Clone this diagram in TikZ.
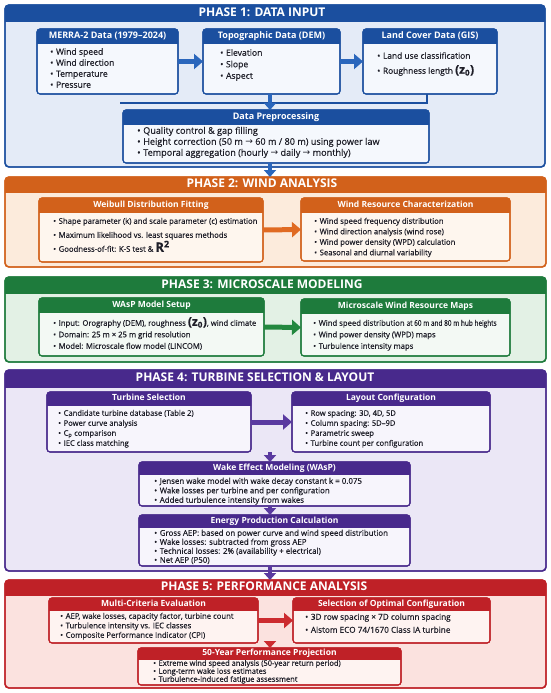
\documentclass[tikz,border=0pt]{standalone}
\usepackage{fontspec}
\setmainfont{Open Sans}
\newfontfamily\bt{Open Sans}[FakeBold=0.45]
\newfontfamily\djv{DejaVu Sans}
\usetikzlibrary{arrows.meta}
\definecolor{bl}{HTML}{1B4F9F}\definecolor{blP}{HTML}{E4EBF7}\definecolor{blB}{HTML}{F5F8FD}\definecolor{blA}{HTML}{2A66BC}
\definecolor{or}{HTML}{D2611B}\definecolor{orP}{HTML}{FCEBDC}\definecolor{orB}{HTML}{FEF6EE}\definecolor{orA}{HTML}{E06A22}
\definecolor{gr}{HTML}{1E7B3C}\definecolor{grP}{HTML}{E3F1E5}\definecolor{grB}{HTML}{F3F9F4}\definecolor{grA}{HTML}{23883F}
\definecolor{pu}{HTML}{48298C}\definecolor{puP}{HTML}{EBE7F6}\definecolor{puB}{HTML}{F7F5FC}\definecolor{puA}{HTML}{5A3AA0}
\definecolor{rd}{HTML}{BF2127}\definecolor{rdP}{HTML}{FBE2DF}\definecolor{rdB}{HTML}{FEF3F1}\definecolor{rdA}{HTML}{CC2B2F}
\definecolor{txt}{HTML}{1E1E28}
\tikzset{
  pt/.style={font=\bfseries\fontsize{12}{14}\selectfont, text=white, inner sep=0, text height=8.6pt, text depth=2.4pt},
  hdr/.style={font=\bfseries\fontsize{8.5}{10}\selectfont, text=white, inner sep=0, text height=6.2pt, text depth=1.8pt},
  lf/.style={font=\bt\fontsize{7.2}{8}\selectfont},
  li/.style={anchor=west, inner sep=0, text height=5pt, text depth=1.5pt, text=txt, lf},
  blk/.style={line width=5pt, -{Triangle[length=9pt,width=15pt]}},
  vblk/.style={line width=4.5pt, -{Triangle[length=7pt,width=12pt]}},
}
\newcommand\mkpanel[9]{%
  \node[draw=#7, line width=1.4pt, fill=#7P, rounded corners=4pt, minimum width=#4pt, minimum height=#5pt, anchor=north west, inner sep=0, outer sep=0] (#1) at (#2,#3) {};
  \begin{scope}
    \clip (#2,#3) rectangle (#2+#4,#3+#6);
    \fill[#7, rounded corners=4pt] (#1.north west) rectangle (#1.south east);
  \end{scope}
  \draw[#7, line width=1.4pt, rounded corners=4pt] (#1.north west) rectangle (#1.south east);
  \node[pt] (#1t) at (#8,#3+#6/2) {#9};
}
\newcommand\mkbox[8]{%
  \node[draw=#7, line width=1.1pt, fill=#7B, rounded corners=3pt, minimum width=#4pt, minimum height=#5pt, anchor=north west, inner sep=0, outer sep=0] (#1) at (#2,#3) {};
  \begin{scope}
    \clip (#2,#3) rectangle (#2+#4,#3+#6);
    \fill[#7, rounded corners=3pt] (#1.north west) rectangle (#1.south east);
  \end{scope}
  \draw[#7, line width=1.1pt, rounded corners=3pt] (#1.north west) rectangle (#1.south east);
  \node[hdr] (#1h) at (#2+#4/2,#3+#6/2) {#8};
}
\newcommand\bul[4]{\node[li] (#1) at (#2,#3) {\textbullet\hspace{2.6pt}#4};}
\newcommand\zz{{\fontsize{12}{12}\selectfont\bfseries(z\textsubscript{0})}}
\newcommand\rr{{\fontsize{13}{13}\selectfont\bfseries R\textsuperscript{2}}}
\newcommand\ar{{\djv →}}
\newcommand\lsz[1]{\tikzset{lf/.style={font=\bt\fontsize{#1}{9}\selectfont}}}
\begin{document}
\begin{tikzpicture}[x=1pt,y=-1pt]
\fill[white] (0,0) rectangle (550,693);
\useasboundingbox (0,0) rectangle (550,693);

% ---------------- PHASE 1
\mkpanel{p1}{5}{5}{540}{162}{17}{bl}{262}{PHASE 1: DATA INPUT}
\tikzset{hdr/.append style={font=\bfseries\fontsize{9}{10}\selectfont}}
\mkbox{merra}{37}{29}{141}{65}{15}{bl}{MERRA-2 Data (1979–2024)}
\mkbox{topo}{203}{29}{137}{65}{15}{bl}{Topographic Data (DEM)}
\mkbox{land}{363}{29}{134}{65}{15}{bl}{Land Cover Data (GIS)}
\mkbox{prep}{123}{110}{306}{53}{14}{bl}{Data Preprocessing}
\lsz{8.6}
\bul{m1}{50}{53}{Wind speed}
\bul{m2}{50}{64}{Wind direction}
\bul{m3}{50}{75}{Temperature}
\bul{m4}{50}{86}{Pressure}
\bul{t1}{220}{54}{Elevation}
\bul{t2}{220}{65.5}{Slope}
\bul{t3}{220}{77}{Aspect}
\lsz{9.1}
\bul{d1}{137}{132}{Quality control \& gap filling}
\bul{d2}{137}{143}{Height correction (50 m \ar{} 60 m / 80 m) using power law}
\bul{d3}{137}{154}{Temporal aggregation (hourly \ar{} daily \ar{} monthly)}
\lsz{8.4}
\bul{l1}{377}{57}{Land use classification}
\bul{l2}{377}{72}{Roughness length \zz}
\coordinate (brL) at (120,103);
\draw[bl, line width=1.3pt] ([xshift=-3pt]land.south) |- (brL);
\draw[blk, blA] (merra.east) -- (topo.west);
\draw[blk, blA] (topo.east) -- (land.west);
\draw[vblk, blA] ([xshift=-1.5pt]topo.south) -- ([xshift=-1.5pt]topo.south |- prep.north);

% ---------------- PHASE 2
\mkpanel{p2}{5}{177}{541}{90}{15}{or}{262}{PHASE 2: WIND ANALYSIS}
\draw[vblk, blA] ([xshift=-6pt]prep.south) -- ([xshift=-6pt]prep.south |- p2.north);
\tikzset{hdr/.style={font=\bfseries\fontsize{8.5}{10}\selectfont, text=white, inner sep=0, text height=6.2pt, text depth=1.8pt}}
\mkbox{weib}{39}{198}{224}{64}{14}{or}{Weibull Distribution Fitting}
\mkbox{wres}{301}{198}{209}{63}{14}{or}{Wind Resource Characterization}
\lsz{7.7}
\bul{w1}{53}{222}{Shape parameter (k) and scale parameter (c) estimation}
\bul{w2}{53}{236}{Maximum likelihood vs. least squares methods}
\bul{w3}{53}{250}{Goodness-of-fit: K-S test \& \rr}
\bul{r1}{314}{222}{Wind speed frequency distribution}
\bul{r2}{314}{232.5}{Wind direction analysis (wind rose)}
\bul{r3}{314}{243}{Wind power density (WPD) calculation}
\bul{r4}{314}{253.5}{Seasonal and diurnal variability}
\draw[blk, orA] (weib.east) -- (wres.west);

% ---------------- PHASE 3
\mkpanel{p3}{5}{277}{541}{85}{16}{gr}{262}{PHASE 3: MICROSCALE MODELING}
\mkbox{wasp}{39}{298}{225}{58}{14}{gr}{WAsP Model Setup}
\mkbox{micro}{301}{299}{209}{57}{14}{gr}{Microscale Wind Resource Maps}
\lsz{7.7}
\bul{s1}{53}{324}{Input: Orography (DEM), roughness \zz, wind climate}
\bul{s2}{53}{335.5}{Domain: 25 m × 25 m grid resolution}
\bul{s3}{53}{347}{Model: Microscale flow model (LINCOM)}
\bul{c1}{313}{324}{Wind speed distribution \scalebox{0.84}[1]{at 60 m and 80 m hub heights}}
\bul{c2}{313}{335.5}{Wind power density (WPD) maps}
\bul{c3}{313}{347}{Turbulence intensity maps}
\draw[blk, grA] (wasp.east) -- (micro.west);

% ---------------- PHASE 4
\mkpanel{p4}{5}{370}{541}{201}{17}{pu}{255}{PHASE 4: TURBINE SELECTION \& LAYOUT}
\mkbox{turb}{47}{392}{204}{60}{13}{pu}{Turbine Selection}
\mkbox{lay}{292}{392}{198}{60}{13}{pu}{Layout Configuration}
\mkbox{wake}{139}{462}{271}{44}{12}{pu}{Wake Effect Modeling (WAsP)}
\mkbox{ener}{139}{515}{271}{51}{12}{pu}{Energy Production Calculation}
\lsz{7.6}
\bul{u1}{58}{414}{Candidate turbine database (Table 2)}
\bul{u2}{58}{424}{Power curve analysis}
\bul{u3}{58}{434}{C\textsubscript{p} comparison}
\bul{u4}{58}{444}{IEC class matching}
\bul{y1}{305}{414}{Row spacing: 3D, 4D, 5D}
\bul{y2}{305}{424}{Column spacing: 5D–9D}
\bul{y3}{305}{434}{Parametric sweep}
\bul{y4}{305}{444}{Turbine count per configuration}
\lsz{7.9}
\bul{k1}{154}{482}{Jensen wake model with wake decay constant k = 0.075}
\bul{k2}{154}{491.5}{Wake losses per turbine and per configuration}
\bul{k3}{154}{501}{Added turbulence intensity from wakes}
\bul{e1}{154}{534}{Gross AEP: based on power curve and wind speed distribution}
\bul{e2}{154}{543}{Wake losses: subtracted from gross AEP}
\bul{e3}{154}{552}{Technical losses: 2\% (availability + electrical)}
\bul{e4}{154}{561}{Net AEP (P50)}
\draw[blk, puA] (turb.east) -- (lay.west);
\coordinate (a4s) at (270,452);
\draw[vblk, puA] (a4s) -- (a4s |- wake.north);
\draw[vblk, puA] ([xshift=-4.5pt]wake.south) -- ([xshift=-4.5pt]ener.north);

% ---------------- PHASE 5
\mkpanel{p5}{5}{580}{541}{108}{15}{rd}{264}{PHASE 5: PERFORMANCE ANALYSIS}
\draw[vblk, puA] ([xshift=-4.5pt]ener.south) -- ([xshift=-4.5pt]ener.south |- p5.north);
\mkbox{mult}{49}{598}{209}{45}{12}{rd}{Multi-Criteria Evaluation}
\mkbox{sel}{293}{598}{197}{45}{12}{rd}{Selection of Optimal Configuration}
\mkbox{proj}{138}{648}{263}{37}{11}{rd}{50-Year Performance Projection}
\lsz{7.7}
\bul{v1}{60}{617}{AEP, wake losses, capacity factor, turbine count}
\bul{v2}{60}{626.5}{Turbulence intensity vs. IEC classes}
\bul{v3}{60}{636}{Composite Performance Indicator (CPI)}
\lsz{7.5}
\bul{q1}{153}{664}{Extreme wind speed analysis (50-year return period)}
\bul{q2}{153}{672}{Long-term wake loss estimates}
\bul{q3}{153}{680}{Turbulence-induced fatigue assessment}
\lsz{8.2}
\bul{o1}{305}{618}{3D row spacing × 7D column spacing}
\bul{o2}{305}{631}{Alstom ECO 74/1670 Class IA turbine}
\draw[blk, rdA] (mult.east) -- (sel.west);
\coordinate (a5s) at (270,641);
\draw[vblk, rdA] (a5s) -- (a5s |- proj.north);
\end{tikzpicture}
\end{document}
